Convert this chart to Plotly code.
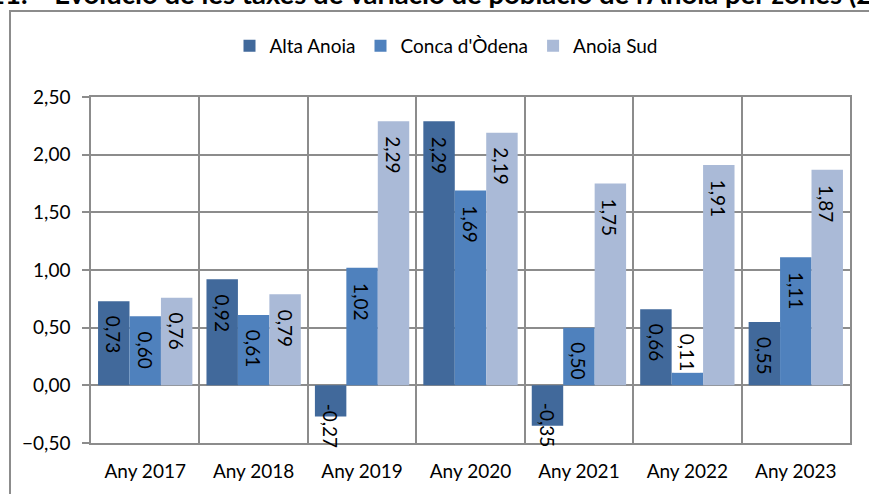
import plotly.graph_objects as go

categories = ["Any 2017", "Any 2018", "Any 2019", "Any 2020", "Any 2021", "Any 2022", "Any 2023"]
alta_anoia = [0.73, 0.92, -0.27, 2.29, -0.35, 0.66, 0.55]
conca_odena = [0.60, 0.61, 1.02, 1.69, 0.50, 0.11, 1.11]
anoia_sud = [0.76, 0.79, 2.29, 2.19, 1.75, 1.91, 1.87]
series_names = ["Alta Anoia", "Conca d'Òdena", "Anoia Sud"]
y_ticks = [-0.5, 0.0, 0.5, 1.0, 1.5, 2.0, 2.5]
title_text = "11.&nbsp;&nbsp;&nbsp;&nbsp;Evolució de les taxes de variació de població de l'Anoia per zones (2017-2023)"

colors = ["#41699B", "#4F81BD", "#AABAD7"]
FONT = "Lato"
GRID = "#8c8c8c"
W, H = 869, 494
L, R, T, B = 91, 19, 97, 51
BARGAP = 0.13

def fmt(v):
    return f"{v:.2f}".replace(".", ",")

fig = go.Figure()
all_series = [alta_anoia, conca_odena, anoia_sud]
for name, vals, col in zip(series_names, all_series, colors):
    fig.add_trace(go.Bar(x=categories, y=vals, name=name, marker=dict(color=col, line=dict(width=0))))

annotations = []
n = len(all_series)
for i, vals in enumerate(all_series):
    for j, v in enumerate(vals):
        xpos = j + (i - (n - 1) / 2) * (1 - BARGAP) / n
        if v < 0:
            annotations.append(dict(x=xpos, y=0, xref="x", yref="y", text=fmt(v), showarrow=False,
                                    textangle=90, yanchor="top", xanchor="center", yshift=-16,
                                    font=dict(family=FONT, size=19, color="black")))
        elif v < 0.4:
            annotations.append(dict(x=xpos, y=v, xref="x", yref="y", text=fmt(v), showarrow=False,
                                    textangle=90, yanchor="bottom", xanchor="center", yshift=0,
                                    bgcolor="white",
                                    font=dict(family=FONT, size=19, color="black")))
        else:
            annotations.append(dict(x=xpos, y=v, xref="x", yref="y", text=fmt(v), showarrow=False,
                                    textangle=90, yanchor="top", xanchor="center", yshift=-13,
                                    font=dict(family=FONT, size=19, color="black")))

pw = W - L - R
ph = H - T - B
annotations.append(dict(x=(-13 - L) / pw, y=1 + (T - 12) / ph, xref="paper", yref="paper",
                        text="<b>" + title_text + "</b>", showarrow=False, xanchor="left", yanchor="bottom",
                        font=dict(family=FONT, size=27.5, color="black")))

shapes = [dict(type="rect", xref="paper", yref="paper",
               x0=(10 - L) / pw, x1=(900 - L) / pw, y0=1 + (T - 11) / ph, y1=-(60) / ph,
               line=dict(color="#8c8c8c", width=2), fillcolor="rgba(0,0,0,0)", layer="below")]

fig.update_layout(
    width=W, height=H,
    margin=dict(l=L, r=R, t=T, b=B),
    paper_bgcolor="white", plot_bgcolor="white",
    barmode="group", bargap=BARGAP, bargroupgap=0,
    separators=",.",
    font=dict(family=FONT, size=19, color="black"),
    showlegend=True,
    legend=dict(orientation="h", x=(446 - L) / pw, xanchor="center", y=1 + (T - 46) / ph, yanchor="middle",
                font=dict(family=FONT, size=19, color="black"), traceorder="normal", itemwidth=30),
    annotations=annotations,
    shapes=shapes,
    xaxis=dict(type="category", tickson="boundaries", showgrid=True, gridcolor=GRID, gridwidth=1.5,
               showline=True, linecolor=GRID, linewidth=1.5, mirror=True, ticks="",
               ticklabelstandoff=10, tickfont=dict(family=FONT, size=19, color="black")),
    yaxis=dict(range=[-0.5, 2.5], tickvals=y_ticks, tickformat=".2f", showgrid=True, gridcolor=GRID,
               gridwidth=1.5, zeroline=True, zerolinecolor=GRID, zerolinewidth=1.5,
               showline=True, linecolor=GRID, linewidth=1.5, mirror=True,
               ticks="outside", ticklen=7, tickcolor=GRID, tickwidth=1.5, ticklabelstandoff=8,
               tickfont=dict(family=FONT, size=19, color="black")),
)

fig.write_html("out.html", config={"displayModeBar": False},
               post_script="document.body.style.margin='0';")
